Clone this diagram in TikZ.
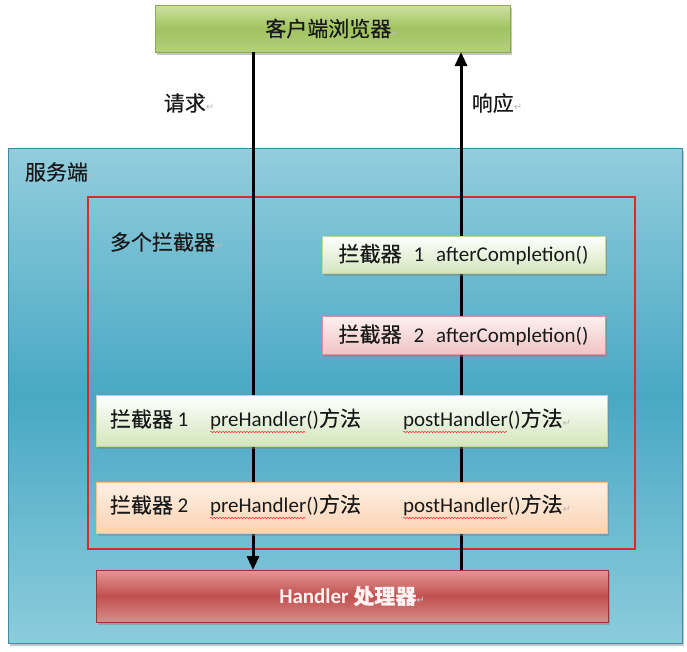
\documentclass[tikz,border=0pt]{standalone}
\usepackage{fontspec}
\setmainfont{Carlito}
\newfontfamily\cjk[FakeBold=0.4]{Noto Sans CJK SC}
\newfontfamily\retfont{DejaVu Sans}
\usepackage{tikz}
\usetikzlibrary{positioning, arrows.meta, shadows, decorations.pathmorphing}
\usepackage{xcolor}
\definecolor{clienttop}{RGB}{205, 225, 160}
\definecolor{clientmid}{RGB}{160, 195, 95}
\definecolor{clientbot}{RGB}{180, 208, 125}
\definecolor{clientline}{RGB}{140, 170, 80}
\definecolor{servertop}{RGB}{146, 205, 220}
\definecolor{servermid}{RGB}{72, 168, 196}
\definecolor{serverbot}{RGB}{140, 204, 220}
\definecolor{serverline}{RGB}{60, 140, 165}
\definecolor{chainred}{RGB}{225, 40, 40}
\definecolor{greenbot}{RGB}{212, 229, 188}
\definecolor{greenline}{RGB}{195, 214, 155}
\definecolor{pinktop}{RGB}{253, 240, 240}
\definecolor{pinkbot}{RGB}{240, 196, 196}
\definecolor{pinkline}{RGB}{217, 149, 148}
\definecolor{peachtop}{RGB}{253, 240, 228}
\definecolor{peachbot}{RGB}{251, 212, 180}
\definecolor{peachline}{RGB}{250, 192, 144}
\definecolor{handtop}{RGB}{228, 152, 152}
\definecolor{handmid}{RGB}{192, 80, 77}
\definecolor{handbot}{RGB}{215, 140, 140}
\definecolor{handline}{RGB}{150, 55, 52}
\newcommand{\zhtxt}[1]{{\cjk #1}}
\newcommand{\retmark}{{\retfont\fontsize{10}{10}\selectfont\textcolor{gray!55}{↵}}}

\begin{document}
\begin{tikzpicture}[x=1pt, y=-1pt,
    every node/.style={font=\fontsize{21}{25}\selectfont, text=black!90, inner sep=0pt, outer sep=0pt},
    box/.style={draw, rectangle, line width=0.8pt,
      drop shadow={shadow xshift=1.5pt, shadow yshift=-2.5pt, opacity=0.45}},
    flow/.style={line width=3pt, -{Triangle[length=14pt, width=12pt]}},
    squig/.style={red!80, line width=0.5pt, decorate,
      decoration={snake, amplitude=0.8pt, segment length=3pt}}]
  \useasboundingbox[fill=white] (0,0) rectangle (687,651);

  % server side
  \node[box, draw=serverline, top color=servertop, bottom color=serverbot, middle color=servermid,
        minimum width=674pt, minimum height=495pt] (server) at (345,395.5) {};
  \node[anchor=west] (serverlbl) at (25,172) {\zhtxt{服务端}\retmark};
  \node[draw=chainred, line width=1.3pt, minimum width=547pt, minimum height=352pt] (chain) at (361.5,373) {};
  \node[anchor=west] (chainlbl) at (110,242) {\zhtxt{多个拦截器}\retmark};

  % client and handler
  \node[box, draw=clientline, top color=clienttop, bottom color=clientbot, middle color=clientmid,
        minimum width=355pt, minimum height=47pt] (client) at (332.5,28.5) {\zhtxt{客户端浏览器}\retmark};
  \node[box, draw=handline, top color=handtop, bottom color=handbot, middle color=handmid,
        minimum width=512pt, minimum height=52pt, text=white!95!red, font=\fontsize{21}{25}\selectfont\bfseries]
        (handler) at (352,596) {Handler \zhtxt{处理器}\retmark};

  % request / response
  \coordinate (req) at (253,0);
  \coordinate (resp) at (461,0);
  \draw[flow] (client.south -| req) -- (handler.north -| req);
  \draw[flow] (handler.north -| resp) -- (client.south -| resp);
  \node (reqlbl) at (189,103) {\zhtxt{请求}\retmark};
  \node (resplbl) at (497,103) {\zhtxt{响应}\retmark};

  % afterCompletion
  \node[box, draw=greenline, top color=white, bottom color=greenbot,
        minimum width=283pt, minimum height=37pt] (after1) at (463.5,254.5)
        {\zhtxt{拦截器}\hspace{12pt}1\hspace{12pt}afterCompletion()};
  \node[box, draw=pinkline, top color=pinktop, bottom color=pinkbot,
        minimum width=283pt, minimum height=38pt] (after2) at (463.5,335)
        {\zhtxt{拦截器}\hspace{12pt}2\hspace{12pt}afterCompletion()};

  % preHandler / postHandler
  \node[box, draw=greenline, top color=white, bottom color=greenbot,
        minimum width=511pt, minimum height=51pt] (pre1) at (351.5,420.5) {};
  \node[box, draw=peachline, top color=peachtop, bottom color=peachbot,
        minimum width=511pt, minimum height=51pt] (pre2) at (351.5,507.5) {};
  \node[anchor=west] (pre1n) at (110,419) {\zhtxt{拦截器} 1};
  \node[anchor=west] (pre1a) at (210,419) {preHandler()\zhtxt{方法}};
  \node[anchor=west] (pre1b) at (403,419) {postHandler()\zhtxt{方法}\retmark};
  \node[anchor=west] (pre2n) at (110,505) {\zhtxt{拦截器} 2};
  \node[anchor=west] (pre2a) at (210,505) {preHandler()\zhtxt{方法}};
  \node[anchor=west] (pre2b) at (403,505) {postHandler()\zhtxt{方法}\retmark};
  \draw[squig] ([yshift=-13pt]pre1a.west) -- ++(96,0);
  \draw[squig] ([yshift=-13pt]pre1b.west) -- ++(104,0);
  \draw[squig] ([yshift=-13pt]pre2a.west) -- ++(96,0);
  \draw[squig] ([yshift=-13pt]pre2b.west) -- ++(104,0);
\end{tikzpicture}
\end{document}
